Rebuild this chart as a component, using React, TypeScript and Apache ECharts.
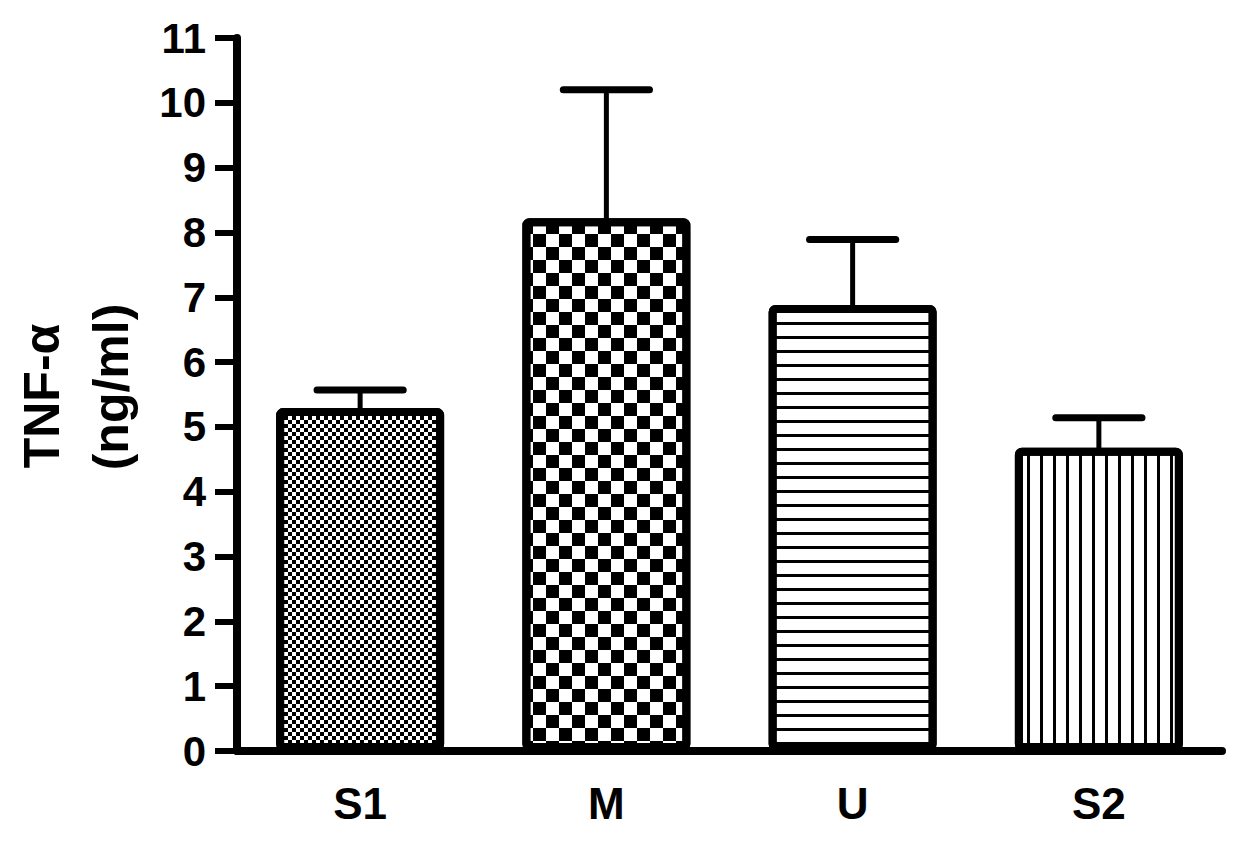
import React, { useEffect, useRef } from "react";
import * as echarts from "echarts";

const categories = ["S1", "M", "U", "S2"];
const means = [5.29, 8.22, 6.88, 4.68];
const errors = [0.28, 1.98, 1.01, 0.46];
const yTicks = { min: 0, max: 11, interval: 1 };
const axisName = ["TNF-α", "(ng/ml)"];

const FONT = "'Liberation Sans', Arial, Helvetica, sans-serif";

const decals: any[] = [
  { symbol: "rect", symbolSize: 1, dashArrayX: [[4, 4], [0, 4, 4, 0]], dashArrayY: [4, 0], color: "#000", backgroundColor: "#fff" },
  { symbol: "rect", symbolSize: 1, dashArrayX: [[13, 13], [0, 13, 13, 0]], dashArrayY: [13, 0], color: "#000", backgroundColor: "#fff" },
  { symbol: "rect", symbolSize: 1, dashArrayX: [1, 0], dashArrayY: [3, 11], color: "#000", backgroundColor: "#fff" },
  { symbol: "rect", symbolSize: 1, dashArrayX: [3, 10], dashArrayY: [1, 0], color: "#000", backgroundColor: "#fff" },
];

export default function App() {
  const ref = useRef<HTMLDivElement>(null);
  useEffect(() => {
    document.body.style.margin = "0";
    const chart = echarts.init(ref.current!, null, { renderer: "svg" });
    chart.setOption({
      animation: false,
      backgroundColor: "#fff",
      grid: { left: 237, right: 27, top: 38, bottom: 90 },
      xAxis: {
        type: "category",
        data: categories,
        axisLine: { lineStyle: { color: "#000", width: 8, cap: "round" } },
        axisTick: { alignWithLabel: true, length: 22, lineStyle: { color: "#000", width: 6 } },
        axisLabel: { color: "#000", fontSize: 44, fontWeight: "bold", fontFamily: FONT, margin: 30 },
      },
      yAxis: {
        type: "value",
        min: yTicks.min,
        max: yTicks.max,
        interval: yTicks.interval,
        splitLine: { show: false },
        axisLine: { show: true, lineStyle: { color: "#000", width: 8, cap: "round" } },
        axisTick: { show: true, length: 22, lineStyle: { color: "#000", width: 6 } },
        axisLabel: { color: "#000", fontSize: 42, fontWeight: "bold", fontFamily: FONT, margin: 31 },
      },
      graphic: [
        {
          type: "text",
          x: 42,
          y: 396,
          rotation: Math.PI / 2,
          style: { text: axisName[0], font: `bold 50px ${FONT}`, fill: "#000", textAlign: "center", textVerticalAlign: "middle" },
        },
        {
          type: "text",
          x: 111,
          y: 387,
          rotation: Math.PI / 2,
          style: { text: axisName[1], font: `bold 50px ${FONT}`, fill: "#000", textAlign: "center", textVerticalAlign: "middle" },
        },
      ],
      series: [
        {
          type: "custom",
          z: 1,
          data: means.map((m, i) => [i, m, errors[i]]),
          renderItem: (params: any, api: any) => {
            const x = api.value(0);
            const v = api.value(1);
            const e = api.value(2);
            const base = api.coord([x, v]);
            const top = api.coord([x, v + e]);
            const half = api.size([1, 0])[0] * 0.175;
            return {
              type: "group",
              children: [
                { type: "line", shape: { x1: base[0], y1: base[1] + 6, x2: top[0], y2: top[1] }, style: { stroke: "#000", lineWidth: 5 } },
                { type: "line", shape: { x1: top[0] - half, y1: top[1], x2: top[0] + half, y2: top[1] }, style: { stroke: "#000", lineWidth: 7, lineCap: "round" } },
              ],
            };
          },
        },
        {
          type: "bar",
          z: 2,
          barWidth: 168,
          data: means.map((m, i) => ({
            value: m,
            itemStyle: { color: "#fff", borderColor: "#000", borderWidth: 8, borderRadius: 3, decal: decals[i] },
          })),
        },
      ],
    });
    return () => chart.dispose();
  }, []);
  return <div ref={ref} style={{ width: 1249, height: 841 }} />;
}
